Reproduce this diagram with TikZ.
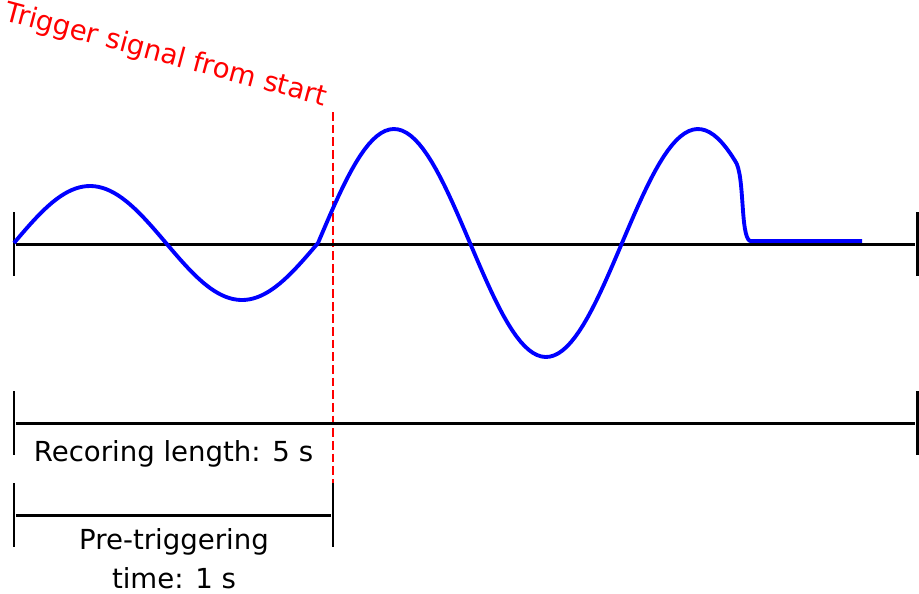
\documentclass[tikz,border=0pt]{standalone}
\usepackage{fontspec}
\setmainfont{DejaVu Sans}
\usetikzlibrary{positioning}

\begin{document}
\begin{tikzpicture}[x=0.02cm,y=-0.02cm]
    \tikzstyle{tick}=[fill=black,minimum width=1.7pt,minimum height=1.28cm,inner sep=0pt]
    \tikzstyle{bar}=[line width=1.7pt]
    \tikzstyle{wave}=[blue,line width=2.2pt,line join=round]
    \tikzstyle{lbl}=[font=\fontsize{15.7}{22}\selectfont,inner sep=0pt]
    \useasboundingbox (0,0) rectangle (919,593);
    % trigger marker
    \coordinate (trig_top) at (333,112);
    \coordinate (trig_bot) at (333,547);
    \draw[red,line width=1.5pt,dash pattern=on 5pt off 2.2pt] (trig_top) -- (trig_bot);
    \node[lbl,red,rotate=-15,anchor=base] (trig_lbl) at (164,63) {Trigger signal from start};
    % signal axis
    \node[tick] (ax_l) at (14,244) {};
    \node[tick] (ax_r) at (917,244) {};
    \draw[bar] (ax_l) -- (ax_r);
    % recording length
    \node[tick] (rec_l) at (14,423) {};
    \node[tick] (rec_r) at (917,423) {};
    \draw[bar] (rec_l) -- (rec_r);
    \node[lbl,anchor=base] (rec_lbl) at (173.5,461) {Recoring length: 5 s};
    % pre-triggering time
    \node[tick] (pre_l) at (14,515) {};
    \node[tick] (pre_r) at (333,515) {};
    \draw[bar] (pre_l) -- (pre_r);
    \node[lbl,anchor=base,align=center] (pre_lbl) at (174,588) {Pre-triggering\\time: 1 s};
    % signal
    \draw[wave] plot[domain=14:318,samples=80] (\x,{243-57*sin(1.18421*(\x-14))})
      -- plot[domain=318:735,samples=100] (\x,{243-114*sin(1.18421*(\x-318))})
      .. controls (745,174) and (740,236) .. (750,241) -- (862,241);
\end{tikzpicture}
\end{document}
